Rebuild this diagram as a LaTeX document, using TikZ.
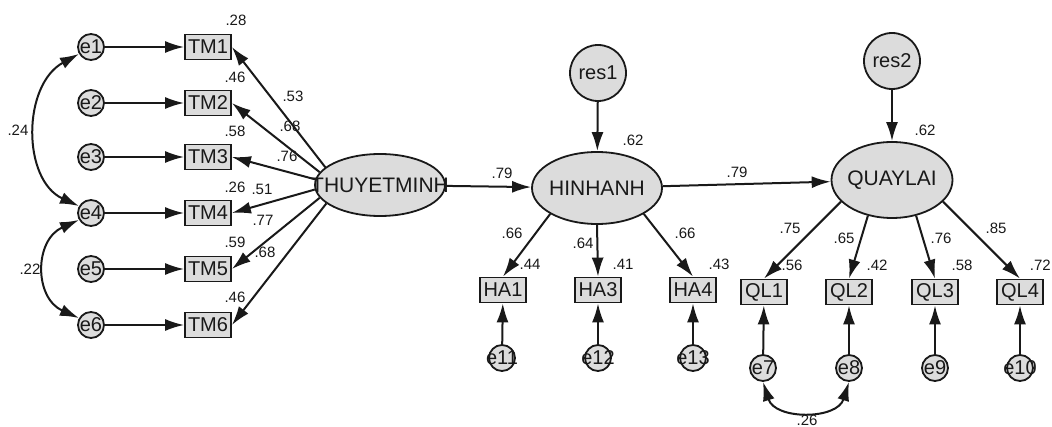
\documentclass[tikz,border=0pt]{standalone}
\usepackage{fontspec}
\setmainfont{Liberation Sans}
\usetikzlibrary{arrows.meta,shapes.geometric}
\definecolor{nodefill}{RGB}{220,220,220}
\definecolor{ink}{RGB}{25,25,25}
\tikzset{
  x=1pt, y=-1pt,
  every node/.style={text=ink},
  tip/.tip={Latex[length=19pt,width=12pt]},
  link/.style={draw=ink, line width=2pt, -tip},
  cov/.style={draw=ink, line width=2pt, tip-tip},
  obs/.style={draw=ink, fill=nodefill, line width=1.8pt, rectangle, minimum width=46pt, minimum height=25pt, inner sep=0pt, font=\fontsize{20}{20}\selectfont},
  err/.style={draw=ink, fill=nodefill, line width=1.8pt, circle, minimum size=26pt, inner sep=0pt, font=\fontsize{20}{20}\selectfont},
  resid/.style={draw=ink, fill=nodefill, line width=1.8pt, circle, minimum size=56pt, inner sep=0pt, font=\fontsize{20}{20}\selectfont},
  latent/.style={draw=ink, fill=nodefill, line width=1.8pt, ellipse, inner sep=0pt, font=\fontsize{21}{21}\selectfont},
  coef/.style={inner sep=0pt, font=\fontsize{15}{15}\selectfont},
}
\newcommand{\wide}[1]{\makebox[0pt]{#1}}
\begin{document}
\begin{tikzpicture}
\useasboundingbox (0,0) rectangle (1052,427);
\clip (0,0) rectangle (1052,427);

% measurement errors of THUYETMINH
\foreach \i/\y in {1/47,2/103,3/157,4/213,5/269,6/325}{
  \node[err] (e\i) at (91,\y) {\wide{e\i}};
  \node[obs] (TM\i) at (208,\y) {TM\i};
}
% latent variables
\node[latent, minimum width=130pt, minimum height=62pt] (THU) at (380,185) {\wide{THUYETMINH}};
\node[latent, minimum width=130pt, minimum height=72pt] (HIN) at (597,188) {\wide{HINHANH}};
\node[latent, minimum width=121pt, minimum height=76pt] (QUA) at (892,180) {\wide{QUAYLAI}};
\node[resid] (res1) at (598,73) {res1};
\node[resid] (res2) at (892,61) {res2};

% indicators of HINHANH
\node[obs] (HA1) at (503,290) {HA1};
\node[obs] (HA3) at (598,290) {HA3};
\node[obs] (HA4) at (693,290) {HA4};
\node[err] (e11) at (502,358) {\wide{e11}};
\node[err] (e12) at (598,358) {\wide{e12}};
\node[err] (e13) at (693,358) {\wide{e13}};

% indicators of QUAYLAI
\node[obs] (QL1) at (764,292) {QL1};
\node[obs] (QL2) at (849,292) {QL2};
\node[obs] (QL3) at (935,292) {QL3};
\node[obs] (QL4) at (1020,292) {QL4};
\node[err] (e7) at (763,368) {\wide{e7}};
\node[err] (e8) at (849,368) {\wide{e8}};
\node[err] (e9) at (935,368) {\wide{e9}};
\node[err] (e10) at (1020,368) {\wide{e10}};

% error paths
\foreach \i in {1,...,6}{ \draw[link] (e\i) -- (TM\i); }
\draw[link] (e11) -- (HA1);
\draw[link] (e12) -- (HA3);
\draw[link] (e13) -- (HA4);
\draw[link] (e7) -- (QL1);
\draw[link] (e8) -- (QL2);
\draw[link] (e9) -- (QL3);
\draw[link] (e10) -- (QL4);

% loadings of THUYETMINH
\foreach \i/\a in {1/162,2/168,3/175,4/184,5/192,6/199}{
  \draw[link] (THU.\a) -- (TM\i.east);
}
% structural paths
\draw[link] (THU) -- (HIN);
\draw[link] (HIN) -- (QUA);
\draw[link] (res1) -- (HIN);
\draw[link] (res2) -- (QUA);
% loadings of HINHANH and QUAYLAI
\draw[link] (HIN.209) -- (HA1.north);
\draw[link] (HIN.south) -- (HA3.north);
\draw[link] (HIN.331) -- (HA4.north);
\draw[link] (QUA.203) -- (QL1.north);
\draw[link] (QUA.236) -- (QL2.north);
\draw[link] (QUA.304) -- (QL3.north);
\draw[link] (QUA.337) -- (QL4.north);

% error covariances
\draw[cov] (e1.210) .. controls (22,85) and (22,180) .. (e4.150);
\draw[cov] (e4.210) .. controls (34,240) and (34,298) .. (e6.150);
\draw[cov] (e7.south) .. controls (775,420) and (837,420) .. (e8.south);

% coefficients
\node[coef] (r1) at (236,20) {.28};
\node[coef] (r2) at (235,77) {.46};
\node[coef] (r3) at (235,131) {.58};
\node[coef] (r4) at (235,187) {.26};
\node[coef] (r5) at (235,242) {.59};
\node[coef] (r6) at (235,297) {.46};
\node[coef] (l1) at (293,96) {.53};
\node[coef] (l2) at (290,126) {.68};
\node[coef] (l3) at (287,156) {.76};
\node[coef] (l4) at (262,189) {.51};
\node[coef] (l5) at (263,220) {.77};
\node[coef] (l6) at (265,252) {.68};
\node[coef] (c14) at (18,130) {.24};
\node[coef] (c46) at (30,269) {.22};
\node[coef] (b1) at (502,173) {.79};
\node[coef] (b2) at (737,172) {.79};
\node[coef] (rh) at (633,140) {.62};
\node[coef] (rq) at (925,130) {.62};
\node[coef] (h1) at (512,233) {.66};
\node[coef] (h3) at (583,243) {.64};
\node[coef] (h4) at (685,233) {.66};
\node[coef] (s1) at (530,264) {.44};
\node[coef] (s3) at (623,264) {.41};
\node[coef] (s4) at (719,264) {.43};
\node[coef] (q1) at (790,228) {.75};
\node[coef] (q2) at (844,238) {.65};
\node[coef] (q3) at (941,238) {.76};
\node[coef] (q4) at (996,228) {.85};
\node[coef] (t1) at (792,265) {.56};
\node[coef] (t2) at (877,265) {.42};
\node[coef] (t3) at (962,265) {.58};
\node[coef, anchor=east] (t4) at (1051,265) {.72};
\node[coef, anchor=south] (c78) at (807,426) {.26};
\end{tikzpicture}
\end{document}
